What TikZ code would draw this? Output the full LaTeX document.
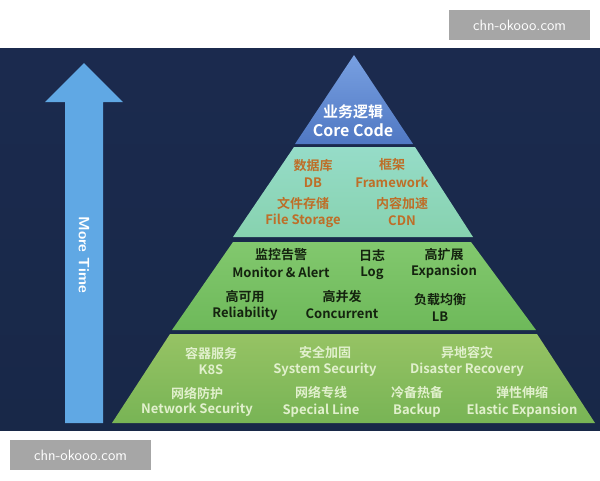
\documentclass[tikz,border=0pt]{standalone}
\usepackage{fontspec}
\setmainfont{Noto Sans CJK SC}[BoldFont={Noto Sans CJK SC Bold}]
\definecolor{bgT}{RGB}{27,42,78}
\definecolor{bgB}{RGB}{24,40,72}
\definecolor{arr}{RGB}{96,168,228}
\definecolor{aT}{RGB}{120,160,225}\definecolor{aB}{RGB}{80,120,195}
\definecolor{bT}{RGB}{150,220,200}\definecolor{bB}{RGB}{135,210,175}
\definecolor{cT}{RGB}{130,200,110}\definecolor{cB}{RGB}{110,185,90}
\definecolor{dT}{RGB}{150,195,100}\definecolor{dB}{RGB}{120,180,85}
\definecolor{orangeT}{RGB}{190,110,40}
\definecolor{darkT}{RGB}{20,35,15}
\definecolor{lightT}{RGB}{225,240,205}
\begin{document}
\begin{tikzpicture}[x=1pt,y=-1pt,
  lab/.style={font=\bfseries\fontsize{13}{14}\selectfont, inner sep=0pt, anchor=center},
  t2/.style={lab, text=orangeT},
  t3/.style={lab, text=darkT},
  t4/.style={lab, text=lightT},
  wm/.style={fill=black!35, text=white, font=\fontsize{15}{16}\selectfont\sffamily, inner sep=0pt, minimum width=141pt, minimum height=30pt}]
\useasboundingbox (0,0) rectangle (600,480);
\fill[white] (0,0) rectangle (600,480);
\shade[top color=bgT, bottom color=bgB] (0,48) rectangle (600,430);
% arrow
\fill[arr] (65,423) -- (103,423) -- (103,102) -- (123,102) -- (84,63) -- (45,102) -- (65,102) -- cycle;
\node[rotate=-90, text=white, font=\bfseries\fontsize{15}{16}\selectfont\sffamily] (mt) at (84,255) {More Time};
% tiers
\shade[top color=aT, bottom color=aB] (354,55) -- (413,144) -- (295,144) -- cycle;
\shade[top color=bT, bottom color=bB] (294,147) -- (415,147) -- (473,237) -- (233,237) -- cycle;
\shade[top color=cT, bottom color=cB] (233,242) -- (471,242) -- (536,330) -- (172,330) -- cycle;
\shade[top color=dT, bottom color=dB] (170,334) -- (537,334) -- (595,423) -- (112,423) -- cycle;
% tier1
\node[lab, text=white, font=\bfseries\fontsize{15}{16}\selectfont] (a1) at (353,112) {业务逻辑};
\node[lab, text=white, font=\bfseries\fontsize{16}{17}\selectfont] (a2) at (353,130) {Core Code};
% tier2
\node[t2] (b1) at (313,166) {数据库}; \node[t2] (b1e) at (313,183) {DB};
\node[t2] (b2) at (392,165) {框架}; \node[t2] (b2e) at (392,182) {Framework};
\node[t2] (b3) at (303,203) {文件存储}; \node[t2] (b3e) at (303,221) {File Storage};
\node[t2] (b4) at (402,203) {内容加速}; \node[t2] (b4e) at (402,221) {CDN};
% tier3
\node[t3] (c1) at (281,255) {监控告警}; \node[t3] (c1e) at (281,272) {Monitor \& Alert};
\node[t3] (c2) at (372,255) {日志}; \node[t3] (c2e) at (372,273) {Log};
\node[t3] (c3) at (444,255) {高扩展}; \node[t3] (c3e) at (444,272) {Expansion};
\node[t3] (c4) at (245,297) {高可用}; \node[t3] (c4e) at (245,314) {Reliability};
\node[t3] (c5) at (342,297) {高并发}; \node[t3] (c5e) at (342,314) {Concurrent};
\node[t3] (c6) at (440,300) {负载均衡}; \node[t3] (c6e) at (440,317) {LB};
% tier4
\node[t4] (d1) at (211,353) {容器服务}; \node[t4] (d1e) at (211,370) {K8S};
\node[t4] (d2) at (325,353) {安全加固}; \node[t4] (d2e) at (325,370) {System Security};
\node[t4] (d3) at (467,353) {异地容灾}; \node[t4] (d3e) at (467,370) {Disaster Recovery};
\node[t4] (d4) at (197,393) {网络防护}; \node[t4] (d4e) at (197,410) {Network Security};
\node[t4] (d5) at (321,393) {网络专线}; \node[t4] (d5e) at (321,411) {Special Line};
\node[t4] (d6) at (417,393) {冷备热备}; \node[t4] (d6e) at (417,411) {Backup};
\node[t4] (d7) at (522,393) {弹性伸缩}; \node[t4] (d7e) at (522,411) {Elastic Expansion};
% watermarks
\node[wm] (w1) at (519.5,25) {chn-okooo.com};
\node[wm] (w2) at (80.5,455) {chn-okooo.com};
\end{tikzpicture}
\end{document}
